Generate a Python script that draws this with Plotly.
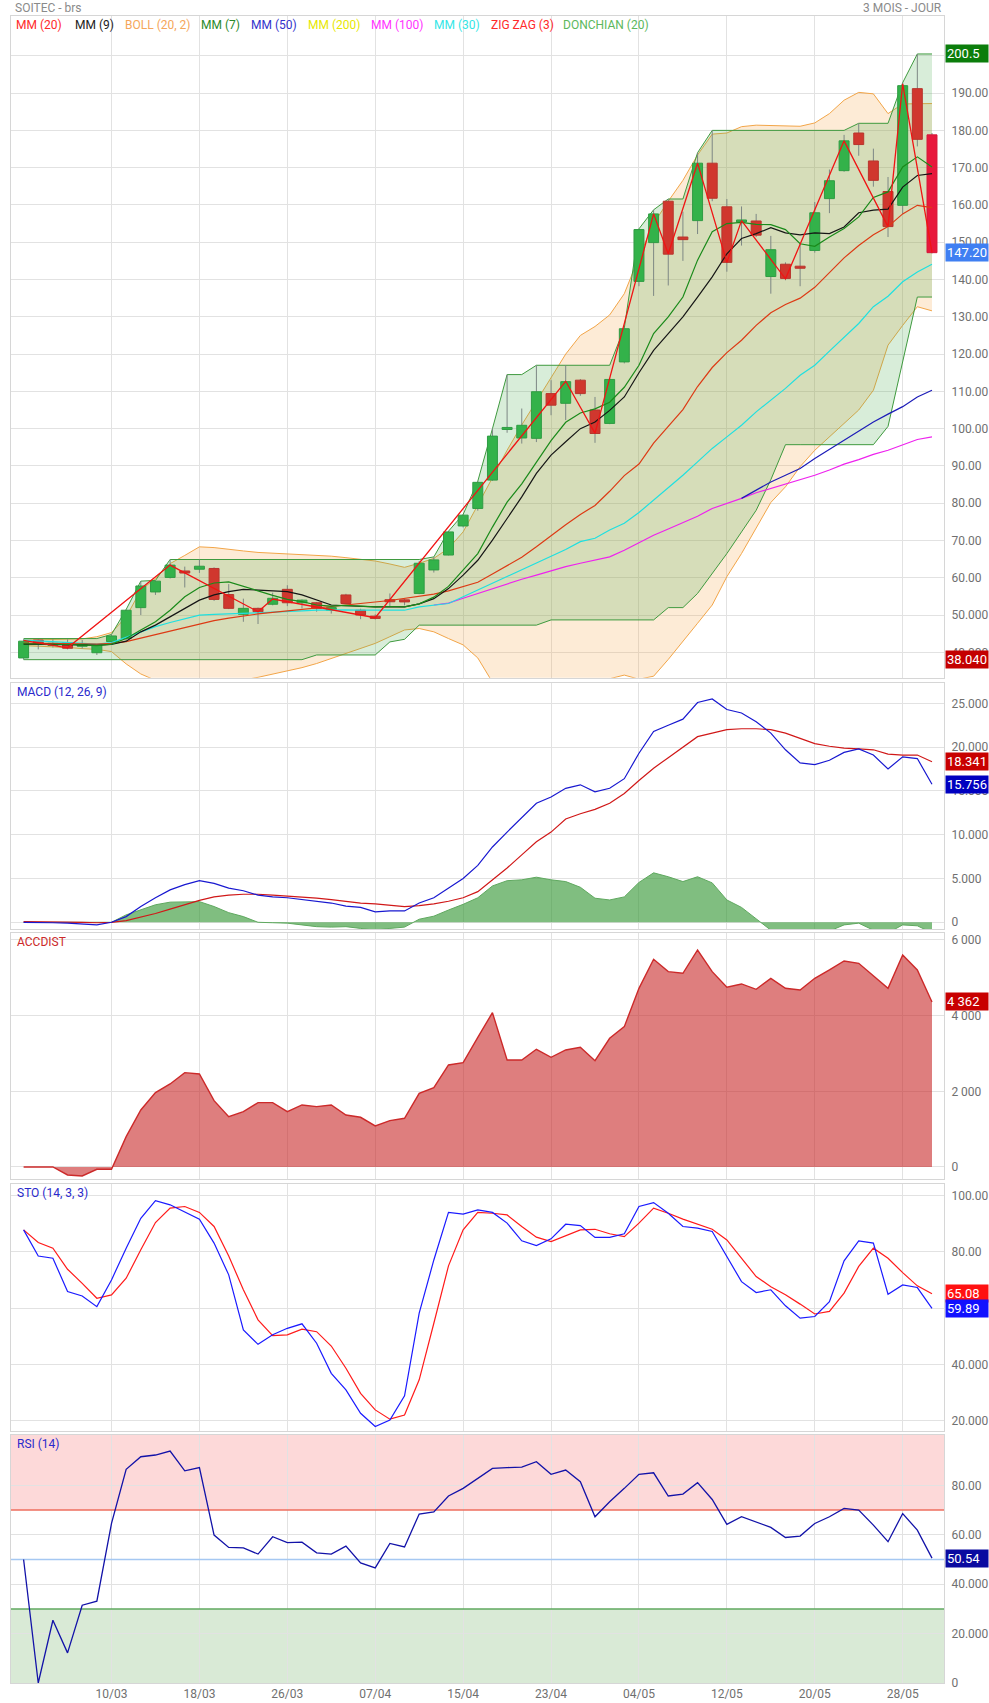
import plotly.graph_objects as go

# ---------------- data ----------------
date_ticks = [6, 12, 18, 24, 30, 36, 42, 48, 54, 60]
date_labels = ["10/03", "18/03", "26/03", "07/04", "15/04", "23/04", "04/05", "12/05", "20/05", "28/05"]

opens = [38.5, 43.3, 42.0, 42.6, 41.8, 39.9, 42.9, 43.7, 52.0, 56.2,
         60.1, 61.8, 62.3, 62.5, 55.5, 50.2, 51.8, 52.9, 56.9, 53.3,
         53.3, 51.3, 55.4, 51.3, 49.7, 54.0, 54.0, 55.8, 62.1, 66.1,
         73.9, 78.6, 86.2, 99.9, 97.5, 97.4, 109.4, 106.8, 113.0, 105.0,
         101.4, 117.9, 139.5, 149.9, 161.0, 151.4, 155.8, 171.2, 159.5, 155.5,
         155.7, 140.8, 144.1, 143.5, 147.8, 161.7, 169.2, 179.3, 171.8, 163.6,
         159.9, 191.2, 178.8]
highs = [43.5, 43.5, 43.5, 43.5, 43.3, 41.9, 44.8, 51.5, 59.1, 59.3,
         64.9, 63.0, 64.9, 62.8, 58.3, 54.4, 52.0, 56.0, 58.0, 54.2,
         53.5, 52.2, 55.7, 51.7, 50.2, 55.8, 54.3, 64.5, 65.6, 72.5,
         77.0, 85.9, 100.0, 114.5, 105.4, 117.0, 113.0, 117.0, 113.3, 108.5,
         113.5, 127.0, 153.6, 158.7, 161.6, 158.2, 174.0, 180.0, 161.6, 159.6,
         157.6, 151.7, 144.6, 149.7, 160.8, 169.5, 178.8, 181.9, 175.1, 167.5,
         192.8, 200.5, 179.3]
lows = [38.04, 40.8, 41.3, 40.8, 41.0, 39.3, 42.5, 43.3, 50.0, 55.4,
        59.8, 57.4, 61.3, 53.8, 51.6, 48.2, 47.6, 52.6, 52.4, 51.8,
        50.9, 50.4, 53.0, 48.9, 48.8, 52.4, 52.6, 55.6, 61.4, 66.0,
        73.5, 78.0, 86.0, 98.9, 96.0, 96.4, 103.6, 102.3, 108.8, 96.2,
        101.2, 117.5, 138.2, 135.6, 138.4, 145.0, 152.2, 161.0, 142.1, 149.1,
        151.4, 136.2, 139.8, 138.2, 147.2, 157.8, 168.9, 173.2, 164.9, 151.4,
        157.6, 175.7, 147.0]
closes = [43.0, 42.4, 42.3, 41.1, 42.0, 41.9, 44.4, 51.3, 57.8, 59.1,
          63.4, 61.3, 63.1, 54.2, 51.8, 51.8, 50.9, 54.5, 53.3, 54.0,
          51.8, 52.0, 53.1, 50.0, 49.1, 53.7, 53.6, 63.9, 64.8, 72.3,
          76.8, 85.6, 98.0, 100.2, 100.9, 109.9, 106.3, 112.6, 109.4, 98.7,
          113.2, 126.8, 153.4, 157.6, 146.8, 150.7, 171.2, 161.8, 144.6, 155.9,
          151.9, 148.0, 140.3, 143.1, 157.9, 166.5, 177.2, 176.2, 166.6, 154.2,
          192.0, 177.6, 147.2]

mm20 = [42.5, 42.5, 42.4, 42.3, 42.3, 42.2, 42.4, 42.9, 43.8, 44.8,
        45.8, 46.7, 47.6, 48.5, 49.2, 49.8, 50.3, 50.7, 51.1, 51.5,
        51.8, 52.1, 52.6, 53.0, 53.5, 53.9, 54.4, 55.0, 55.6, 56.5,
        57.6, 58.8, 61.0, 63.2, 65.5, 68.3, 71.3, 74.2, 77.0, 79.4,
        83.2, 87.4, 90.5, 96.1, 100.6, 105.1, 111.3, 116.4, 120.4, 123.7,
        127.7, 131.1, 133.3, 135.0, 137.9, 141.8, 145.8, 149.1, 152.0, 154.2,
        157.6, 159.9, 159.3]
mm9 = [42.2, 42.2, 42.2, 42.1, 42.0, 41.9, 42.1, 43.0, 45.5, 47.3,
       49.5, 51.8, 54.0, 55.4, 56.3, 56.9, 56.7, 56.7, 56.3, 55.4,
       54.0, 52.7, 52.5, 52.3, 52.2, 52.2, 52.2, 53.0, 54.4, 57.1,
       60.7, 64.7, 70.1, 75.9, 81.7, 88.0, 92.9, 96.5, 100.0, 101.8,
       104.9, 108.5, 115.0, 121.0, 125.5, 130.0, 135.3, 140.7, 146.9, 151.0,
       152.3, 153.9, 152.5, 152.0, 152.5, 152.3, 154.1, 157.9, 158.6, 158.9,
       164.8, 167.9, 168.4]
mm7 = [42.3, 42.3, 42.2, 42.1, 42.0, 41.8, 42.2, 43.7, 46.0, 48.2,
       51.3, 54.9, 57.4, 58.6, 58.9, 57.6, 56.5, 55.3, 54.2, 53.6,
       52.7, 52.4, 52.6, 52.4, 52.2, 52.3, 52.2, 53.0, 54.8, 57.7,
       62.0, 66.5, 73.6, 80.3, 85.2, 91.0, 96.8, 101.7, 104.2, 105.3,
       107.1, 111.1, 117.0, 125.5, 130.0, 135.3, 145.2, 152.8, 155.0, 155.3,
       154.8, 154.7, 153.4, 149.6, 148.9, 151.4, 153.7, 156.8, 162.0, 163.5,
       170.2, 172.9, 170.2]
mm30 = [43.3, 43.1, 42.9, 42.7, 42.4, 42.2, 42.6, 44.0, 45.5, 46.9,
        48.0, 49.1, 50.0, 50.2, 50.3, 50.4, 50.6, 50.8, 50.9, 51.1,
        51.3, 51.4, 51.4, 51.3, 51.3, 51.3, 51.3, 52.2, 52.7, 53.1,
        54.9, 56.7, 58.5, 60.3, 62.1, 63.8, 65.6, 67.6, 69.7, 70.6,
        72.8, 74.6, 77.5, 80.8, 84.0, 87.5, 91.1, 94.7, 97.8, 100.9,
        104.5, 107.6, 110.8, 114.3, 117.0, 120.8, 124.6, 128.2, 132.7, 135.5,
        139.4, 142.0, 144.1]
mm100_x = list(range(28, 63))
mm100 = [52.7, 53.2, 54.5, 55.8, 57.2, 58.5, 59.6, 60.7, 61.9, 63.0,
         63.9, 64.8, 65.6, 67.4, 69.4, 71.4, 73.1, 74.7, 76.5, 78.6,
         79.9, 81.3, 82.8, 84.0, 85.1, 86.2, 87.5, 88.9, 90.5, 91.7,
         93.1, 94.2, 95.6, 97.1, 97.8]
mm50_x = list(range(49, 63))
mm50 = [81.3, 83.5, 85.7, 87.5, 89.3, 92.0, 94.4, 96.9, 99.3, 101.8, 103.9, 105.9, 108.5, 110.3]

boll_upper = [43.3, 43.4, 43.5, 43.5, 43.6, 44.2, 45.3, 49.5, 56.7, 59.8,
              63.8, 66.0, 68.3, 68.1, 67.6, 67.2, 66.8, 66.6, 66.5, 66.3,
              66.0, 65.8, 65.4, 65.0, 64.5, 63.7, 62.8, 63.9, 65.2, 67.9,
              72.3, 79.5, 87.0, 94.2, 101.0, 107.3, 113.5, 120.0, 125.0, 127.4,
              130.5, 136.2, 146.0, 155.0, 161.0, 166.6, 173.4, 179.0, 179.3, 181.0,
              181.4, 181.3, 181.3, 181.1, 182.0, 184.5, 188.1, 190.2, 189.8, 184.5,
              187.1, 187.2, 187.2]
boll_lower = [41.8, 41.7, 41.5, 41.3, 41.0, 40.8, 40.2, 36.9, 34.2, 32.5,
              31.5, 31.0, 31.0, 31.5, 32.0, 32.6, 33.3, 34.1, 35.0, 35.9,
              37.0, 38.3, 39.6, 40.9, 42.4, 44.2, 46.0, 46.4, 45.5, 43.7,
              42.0, 38.5, 32.0, 30.0, 29.0, 28.5, 29.0, 30.0, 31.0, 32.0,
              32.8, 33.9, 32.8, 33.6, 38.1, 42.8, 47.8, 52.7, 60.3, 66.5,
              73.2, 80.2, 84.4, 89.8, 94.2, 97.8, 101.4, 105.0, 110.3, 122.4,
              127.7, 132.7, 131.6]

don_upper = [43.7, 43.7, 43.7, 43.7, 43.7, 43.7, 44.8, 51.5, 59.1, 59.3,
             64.9, 64.9, 64.9, 64.9, 64.9, 64.9, 64.9, 64.9, 64.9, 64.9,
             64.9, 64.9, 64.9, 64.9, 64.9, 64.9, 64.9, 64.9, 65.6, 72.5,
             77.0, 85.9, 100.0, 114.5, 114.5, 117.0, 117.0, 117.0, 117.0, 117.0,
             117.0, 127.0, 153.6, 158.7, 161.6, 161.6, 174.0, 180.0, 180.0, 180.0,
             180.0, 180.0, 180.0, 180.0, 180.0, 180.0, 180.0, 181.9, 181.9, 181.9,
             192.8, 200.5, 200.5]
don_lower = [38.04, 38.04, 38.04, 38.04, 38.04, 38.04, 38.04, 38.04, 38.04, 38.04,
             38.04, 38.04, 38.04, 38.04, 38.04, 38.04, 38.04, 38.04, 38.04, 38.04,
             39.3, 39.3, 39.3, 39.3, 39.3, 42.8, 43.5, 47.3, 47.3, 47.3,
             47.3, 47.3, 47.3, 47.3, 47.3, 47.3, 48.7, 48.7, 48.7, 48.7,
             48.7, 48.7, 48.7, 48.7, 52.0, 52.0, 55.8, 61.2, 66.5, 72.3,
             78.1, 86.3, 95.7, 95.7, 95.7, 95.7, 95.7, 95.7, 95.7, 100.6,
             118.0, 135.3, 135.3]

zz_x = [0, 3, 10, 16, 17, 24, 37, 39, 43, 44, 46, 48, 49, 52, 56, 59, 60, 62]
zz_y = [43.2, 41.2, 63.4, 50.9, 54.3, 49.3, 112.7, 98.8, 157.6, 146.9,
        171.2, 144.6, 155.8, 140.2, 177.2, 154.2, 192.5, 147.3]

macd = [0.0, 0.0, -0.05, -0.1, -0.2, -0.3, 0.0, 0.65, 1.8, 2.8,
        3.7, 4.3, 4.75, 4.45, 3.9, 3.6, 3.1, 2.9, 2.8, 2.6,
        2.35, 2.2, 1.85, 1.7, 1.2, 1.3, 1.3, 2.2, 2.8, 3.9,
        5.0, 6.5, 8.6, 10.3, 11.9, 13.6, 14.3, 15.3, 15.7, 14.9,
        15.3, 16.4, 19.3, 21.8, 22.5, 23.2, 25.1, 25.5, 24.3, 23.9,
        22.9, 21.6, 19.7, 18.2, 18.0, 18.5, 19.4, 19.8, 19.1, 17.5,
        18.9, 18.7, 15.756]
signal = [0.08, 0.08, 0.05, 0.03, 0.0, -0.05, 0.0, 0.2, 0.6, 1.0,
          1.5, 2.0, 2.5, 2.9, 3.1, 3.2, 3.2, 3.1, 3.0, 2.9,
          2.75, 2.6, 2.4, 2.2, 2.1, 1.95, 1.8, 1.9, 2.1, 2.4,
          2.8, 3.5, 4.8, 6.2, 7.7, 9.2, 10.3, 11.8, 12.4, 12.9,
          13.6, 14.7, 16.2, 17.6, 18.8, 20.0, 21.2, 21.6, 22.0, 22.1,
          22.1, 22.0, 21.6, 21.0, 20.4, 20.1, 19.9, 19.8, 19.7, 19.2,
          19.1, 19.1, 18.341]
hist = [0.0, 0.0, 0.0, 0.0, 0.0, 0.0, 0.0, 0.85, 1.4, 2.0,
        2.3, 2.35, 2.36, 1.8, 1.1, 0.65, 0.0, -0.05, -0.1, -0.3,
        -0.5, -0.55, -0.5, -0.7, -0.9, -0.7, -0.55, 0.35, 0.7, 1.4,
        2.05, 2.8, 4.15, 4.75, 4.85, 5.15, 4.85, 4.65, 4.0, 2.75,
        2.55, 2.9, 4.55, 5.65, 5.2, 4.65, 5.2, 4.5, 2.55, 1.7,
        0.45, -0.9, -1.2, -1.2, -1.2, -1.0, -0.3, -0.1, -0.9, -1.2,
        -0.3, -0.4, -1.2]

accdist = [0, 0, 0, -211, -238, -62, -62, 802, 1506, 1965,
           2194, 2493, 2458, 1753, 1330, 1462, 1700, 1700, 1462, 1639,
           1595, 1639, 1374, 1313, 1084, 1225, 1286, 1947, 2097, 2696,
           2758, 3427, 4079, 2828, 2828, 3110, 2898, 3092, 3163, 2810,
           3401, 3709, 4722, 5489, 5163, 5119, 5735, 5163, 4749, 4837,
           4696, 4986, 4722, 4678, 4986, 5207, 5445, 5383, 5048, 4722,
           5603, 5207, 4362]

sto_k = [87.8, 78.5, 77.7, 65.9, 64.3, 60.5, 70.0, 81.3, 91.9, 98.2,
         96.7, 94.0, 91.6, 83.1, 71.8, 52.2, 47.1, 50.5, 52.8, 54.4,
         47.5, 36.8, 30.9, 22.6, 17.9, 20.2, 28.8, 58.2, 77.1, 94.0,
         93.4, 94.9, 94.0, 90.2, 83.9, 82.2, 84.6, 89.8, 89.3, 85.1,
         85.1, 86.4, 96.1, 97.5, 93.7, 89.0, 88.4, 87.2, 78.1, 69.4,
         65.5, 66.5, 60.8, 56.4, 57.0, 62.3, 76.8, 83.9, 83.1, 64.9,
         68.2, 67.3, 59.89]
sto_d = [87.8, 83.3, 81.3, 73.8, 68.8, 63.5, 64.7, 70.6, 80.7, 90.4,
         95.5, 96.1, 94.0, 89.0, 78.5, 66.5, 55.8, 50.2, 50.5, 52.5,
         51.6, 46.5, 38.6, 29.7, 23.8, 20.5, 22.0, 34.5, 54.6, 75.0,
         87.8, 94.0, 93.7, 93.1, 89.0, 85.2, 83.6, 85.7, 87.8, 88.0,
         86.4, 85.4, 90.2, 95.5, 93.7, 91.6, 89.8, 88.0, 84.2, 77.7,
         71.2, 67.6, 64.7, 61.4, 57.9, 58.8, 65.3, 74.8, 81.3, 77.7,
         72.6, 67.9, 65.08]

rsi = [50.0, 0.0, 25.4, 12.2, 31.5, 33.1, 64.6, 86.5, 91.6, 92.3,
       93.9, 85.9, 87.2, 59.9, 54.9, 54.7, 52.2, 59.2, 56.8, 57.0,
       52.7, 52.2, 55.4, 48.6, 46.6, 56.5, 55.1, 68.4, 69.3, 75.7,
       78.8, 82.8, 86.9, 87.2, 87.4, 89.6, 84.5, 86.2, 81.5, 67.3,
       73.4, 78.8, 84.5, 85.1, 75.7, 76.5, 81.1, 74.3, 64.2, 67.3,
       65.3, 63.0, 58.9, 59.5, 64.6, 67.3, 70.7, 70.0, 63.9, 57.2,
       68.6, 61.9, 50.54]
rsi_levels = [70, 50, 30]

legend_items = ["MM (20)", "MM (9)", "BOLL (20, 2)", "MM (7)", "MM (50)", "MM (200)",
                "MM (100)", "MM (30)", "ZIG ZAG (3)", "DONCHIAN (20)"]

# ---------------- styling ----------------
FONT = "Roboto, 'Noto Sans', sans-serif"
GRID = "#e2e2e2"
FRAME = "#d6d6d6"
TICKC = "#707070"
W, H = 989, 1703
ML, MR, MT, MB = 11, 45, 16, 20
PH = H - MT - MB
XR = [-0.86, 62.82]

X = list(range(len(closes)))


def dom(top_px, bot_px):
    return [max(0.0, (H - MB - bot_px) / PH), min(1.0, (H - MB - top_px) / PH)]


fig = go.Figure()


def line(x, y, color, width=1.2, ax=("x", "y"), **kw):
    fig.add_trace(go.Scatter(x=x, y=y, mode="lines", line=dict(color=color, width=width),
                             xaxis=ax[0], yaxis=ax[1], hoverinfo="skip", showlegend=False, **kw))


# ---- main panel ----
line(X, boll_lower, "#f2a548", 1)
line(X, boll_upper, "#f2a548", 1, fill="tonexty", fillcolor="rgba(245,160,60,0.21)")
line(X, don_lower, "#3f9a3f", 1)
line(X, don_upper, "#3f9a3f", 1, fill="tonexty", fillcolor="rgba(76,175,80,0.22)")

# wicks
wx, wy = [], []
for i in X:
    wx += [i, i, None]
    wy += [lows[i], highs[i], None]
line(wx, wy, "#7d8784", 1)

# bodies
HW = 0.34
MINH = 0.55


def bodies(sel):
    bx, by = [], []
    for i in sel:
        lo, hi = min(opens[i], closes[i]), max(opens[i], closes[i])
        if hi - lo < MINH:
            mid = (hi + lo) / 2
            lo, hi = mid - MINH / 2, mid + MINH / 2
        bx += [i - HW, i + HW, i + HW, i - HW, i - HW, None]
        by += [lo, lo, hi, hi, lo, None]
    return bx, by


last = len(closes) - 1
up_idx = [i for i in X if closes[i] >= opens[i]]
dn_idx = [i for i in X if closes[i] < opens[i] and i != last]
for sel, fc, lc in [(up_idx, "#33b24a", "#2f9c43"), (dn_idx, "#d0372e", "#b8352d"),
                    ([last] if closes[last] < opens[last] else [], "#e8183c", "#d41838")]:
    bx, by = bodies(sel)
    if bx:
        fig.add_trace(go.Scatter(x=bx, y=by, mode="lines", fill="toself", fillcolor=fc,
                                 line=dict(color=lc, width=1), xaxis="x", yaxis="y",
                                 hoverinfo="skip", showlegend=False))

line(mm100_x, mm100, "#ee22ee", 1.2)
line(X, mm30, "#1fe0e0", 1.2)
line(mm50_x, mm50, "#1c1cb8", 1.2)
line(X, mm20, "#dd3a14", 1.2)
line(X, mm9, "#151515", 1.2)
line(X, mm7, "#1a8a1a", 1.2)
line(zz_x, zz_y, "#f01414", 1.3)

# ---- MACD ----
line(X, hist, "#5fa85f", 1, ax=("x2", "y2"), fill="tozeroy", fillcolor="rgba(50,150,50,0.62)")
line(X, signal, "#d01818", 1.2, ax=("x2", "y2"))
line(X, macd, "#1818d0", 1.2, ax=("x2", "y2"))

# ---- ACCDIST ----
line(X, accdist, "#cc2a2a", 1.4, ax=("x3", "y3"), fill="tozeroy", fillcolor="rgba(200,40,40,0.6)")

# ---- STO ----
line(X, sto_d, "#ff1a1a", 1.2, ax=("x4", "y4"))
line(X, sto_k, "#1a1aff", 1.2, ax=("x4", "y4"))

# ---- RSI ----
for lvl, col in zip(rsi_levels, ["#ee6e5e", "#a5c8f2", "#5fa85f"]):
    line(XR, [lvl, lvl], col, 1.5, ax=("x5", "y5"))
line(X, rsi, "#1212a8", 1.3, ax=("x5", "y5"))

# ---------------- axes ----------------
xbase = dict(range=XR, tickvals=date_ticks, ticktext=date_labels, showgrid=True,
             gridcolor=GRID, gridwidth=1, zeroline=False, showline=True, mirror=True,
             linecolor=FRAME, linewidth=1, ticks="", fixedrange=True, automargin=False,
             tickfont=dict(family=FONT, size=12, color=TICKC))


def yax(domain, rng, tv, tt, anchor):
    return dict(domain=domain, range=rng, tickvals=tv, ticktext=tt, side="right", anchor=anchor,
                showgrid=True, gridcolor=GRID, gridwidth=1, zeroline=False, showline=True,
                mirror=True, linecolor=FRAME, linewidth=1, ticks="", ticklabelstandoff=4,
                automargin=False,
                tickfont=dict(family=FONT, size=12, color=TICKC), fixedrange=True)


main_tv = [40, 50, 60, 70, 80, 90, 100, 110, 120, 130, 140, 150, 160, 170, 180, 190, 200]
main_tt = ["40.000", "50.000", "60.00", "70.00", "80.00", "90.00", "100.00", "110.00", "120.00",
           "130.00", "140.00", "150.00", "160.00", "170.00", "180.00", "190.00", "200.00"]

layout = dict(
    width=W, height=H, margin=dict(l=ML, r=MR, t=MT, b=MB, autoexpand=False),
    paper_bgcolor="white", plot_bgcolor="white", showlegend=False,
    font=dict(family=FONT),
    xaxis=dict(xbase, anchor="y", showticklabels=False),
    xaxis2=dict(xbase, anchor="y2", showticklabels=False),
    xaxis3=dict(xbase, anchor="y3", showticklabels=False),
    xaxis4=dict(xbase, anchor="y4", showticklabels=False),
    xaxis5=dict(xbase, anchor="y5", showticklabels=True),
    yaxis=yax(dom(16.3, 677.7), [33.2, 210.6], main_tv, main_tt, "x"),
    yaxis2=yax(dom(682.7, 929.3), [-0.8, 27.36], [0, 5, 10, 15, 20, 25],
               ["0", "5.000", "10.000", "15.000", "20.000", "25.000"], "x2"),
    yaxis3=yax(dom(933.3, 1179.3), [-326, 6176], [0, 2000, 4000, 6000],
               ["0", "2 000", "4 000", "6 000"], "x3"),
    yaxis4=yax(dom(1184, 1431), [16.3, 104.1], [20, 40, 60, 80, 100],
               ["20.000", "40.000", "60.00", "80.00", "100.00"], "x4"),
    yaxis5=yax(dom(1435, 1683), [0, 100.4], [0, 20, 40, 60, 80],
               ["0", "20.000", "40.000", "60.00", "80.00"], "x5"),
)
fig.update_layout(**layout)

# RSI zones
shapes = [
    dict(type="rect", xref="x5", x0=XR[0], x1=XR[1], yref="y5", y0=70, y1=100.4,
         fillcolor="#fdd9d9", line=dict(width=0), layer="below"),
    dict(type="rect", xref="x5", x0=XR[0], x1=XR[1], yref="y5", y0=0, y1=30,
         fillcolor="#d9ead6", line=dict(width=0), layer="below"),
]
fig.update_layout(shapes=shapes)

ann = []
# titles
ann.append(dict(xref="paper", yref="paper", x=0, y=1, xanchor="left", yanchor="middle",
                xshift=2, yshift=8, text="SOITEC - brs", showarrow=False,
                font=dict(family=FONT, size=12, color="#8a8a8a")))
ann.append(dict(xref="paper", yref="paper", x=1, y=1, xanchor="right", yanchor="middle",
                xshift=0, yshift=8, text="3 MOIS - JOUR", showarrow=False,
                font=dict(family=FONT, size=12, color="#8a8a8a")))

# legend row
leg_colors = ["#ff2a2a", "#222222", "#f5a65b", "#2a8a2a", "#3333cc", "#e8e800",
              "#ff33ff", "#33e6e6", "#ff2a2a", "#5cb85c"]
leg_px = [14, 73, 123, 199, 249, 306, 369, 432, 489, 561]
for t, c, px in zip(legend_items, leg_colors, leg_px):
    ann.append(dict(xref="paper", yref="y domain", x=0, y=1, xanchor="left", yanchor="middle",
                    xshift=px - ML, yshift=-9, text=t, showarrow=False,
                    font=dict(family=FONT, size=12, color=c)))

# panel titles
for ref, t, c in [("y2", "MACD (12, 26, 9)", "#2a2acc"), ("y3", "ACCDIST", "#cc2a2a"),
                  ("y4", "STO (14, 3, 3)", "#2a2acc"), ("y5", "RSI (14)", "#2a2acc")]:
    ann.append(dict(xref="paper", yref=ref + " domain", x=0, y=1, xanchor="left", yanchor="middle",
                    xshift=4, yshift=-9, text=t, showarrow=False,
                    font=dict(family=FONT, size=12, color=c)))

# value boxes on the right
hi_max, lo_min = max(highs), min(lows)
boxes = [
    ("y", hi_max, f"{hi_max:.1f}", "#0b7d0b"),
    ("y", closes[-1], f"{closes[-1]:.2f}", "#3f7ff2"),
    ("y", lo_min, f"{lo_min:.3f}", "#c40000"),
    ("y2", signal[-1], f"{signal[-1]:.3f}", "#c80000"),
    ("y2", macd[-1], f"{macd[-1]:.3f}", "#0000c0"),
    ("y3", accdist[-1], f"{accdist[-1]:,}".replace(",", " "), "#c80000"),
    ("y4", sto_d[-1], f"{sto_d[-1]:.2f}", "#ff1111"),
    ("y4", sto_k[-1], f"{sto_k[-1]:.2f}", "#1111ff"),
    ("y5", rsi[-1], f"{rsi[-1]:.2f}", "#0a0aa0"),
]
for ref, v, t, c in boxes:
    ann.append(dict(xref="paper", yref=ref, x=1, y=v, xanchor="left", yanchor="middle",
                    xshift=1, text=t, showarrow=False, bgcolor=c, width=40, height=15,
                    borderpad=1, align="left",
                    font=dict(family=FONT, size=13, color="white")))

fig.update_layout(annotations=ann)

fig.write_html("out.html")
